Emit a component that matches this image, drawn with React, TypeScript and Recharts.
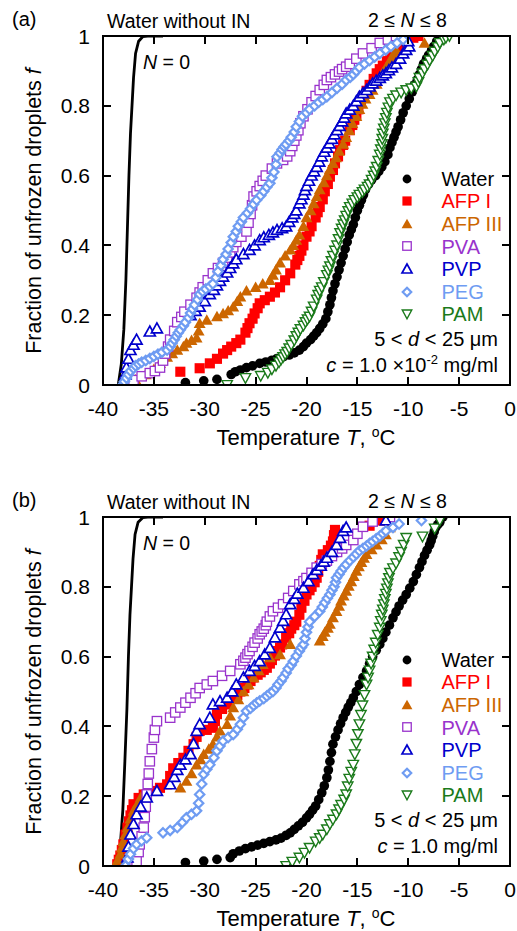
import React from 'react';
import { ScatterChart, Scatter, XAxis, YAxis } from 'recharts';

type P = { T: number; f: number };
const mk = (a: number[][]): P[] => a.map(([T, f]) => ({ T, f }));

const xTicks = [-40, -35, -30, -25, -20, -15, -10, -5, 0];
const yTicks = [0, 0.2, 0.4, 0.6, 0.8, 1];
const seriesNames = ['Water', 'AFP I', 'AFP III', 'PVA', 'PVP', 'PEG', 'PAM'];

// ---------- Panel (a): c = 1.0e-2 mg/ml ----------
const noInA = mk([[-38.5,0],[-38.2,0.06],[-37.95,0.16],[-37.75,0.3],[-37.6,0.45],[-37.45,0.6],[-37.3,0.72],[-37.15,0.8],[-37.0,0.88],[-36.8,0.95],[-36.5,0.985],[-36.1,0.998],[-35.6,1],[-34.1,1]]);
const waterA = mk([[-31.9,0.007],[-30.1,0.012],[-28.8,0.016],[-27.4,0.03],[-27.0,0.038],[-26.5,0.043],[-25.9,0.05],[-25.3,0.055],[-24.6,0.062],[-24.0,0.066],[-23.4,0.071],[-22.9,0.076],[-22.3,0.081],[-21.7,0.086],[-21.2,0.092],[-20.7,0.1],[-20.3,0.11],[-20.0,0.12],[-19.6,0.13],[-19.3,0.14],[-19.0,0.15],[-18.7,0.162],[-18.4,0.175],[-18.1,0.19],[-17.9,0.21],[-17.7,0.23],[-17.55,0.25],[-17.4,0.27],[-17.2,0.29],[-17.0,0.31],[-16.8,0.33],[-16.6,0.35],[-16.4,0.37],[-16.2,0.39],[-16.0,0.41],[-15.8,0.43],[-15.6,0.445],[-15.4,0.46],[-15.2,0.48],[-15.0,0.5],[-14.8,0.515],[-14.6,0.53],[-14.4,0.545],[-14.2,0.56],[-13.9,0.575],[-13.6,0.588],[-13.2,0.6],[-12.9,0.612],[-12.6,0.625],[-12.3,0.64],[-12.0,0.66],[-11.8,0.68],[-11.6,0.695],[-11.4,0.71],[-11.2,0.725],[-11.0,0.74],[-10.75,0.76],[-10.5,0.78],[-10.2,0.8],[-9.9,0.82],[-9.6,0.84],[-9.4,0.86],[-9.1,0.875],[-8.9,0.89],[-8.7,0.905],[-8.5,0.92],[-8.2,0.935],[-8.0,0.945],[-7.7,0.96],[-7.5,0.97],[-7.2,0.985],[-6.9,1.0]]);
const afp1A = mk([[-32.4,0.038],[-30.5,0.048],[-29.5,0.062],[-28.8,0.075],[-28.2,0.09],[-27.8,0.1],[-27.4,0.11],[-26.9,0.12],[-26.5,0.13],[-26.0,0.15],[-25.8,0.163],[-25.6,0.177],[-25.3,0.19],[-25.1,0.205],[-24.8,0.22],[-24.6,0.234],[-24.1,0.243],[-23.6,0.253],[-23.1,0.265],[-22.6,0.28],[-22.1,0.3],[-21.6,0.32],[-21.1,0.345],[-20.9,0.358],[-20.7,0.37],[-20.5,0.385],[-20.3,0.4],[-20.0,0.425],[-19.7,0.44],[-19.5,0.455],[-19.1,0.48],[-18.9,0.495],[-18.7,0.51],[-18.4,0.532],[-18.2,0.555],[-17.9,0.576],[-17.7,0.597],[-17.4,0.616],[-17.2,0.635],[-16.9,0.655],[-16.7,0.673],[-16.4,0.688],[-16.2,0.7],[-15.75,0.73],[-15.5,0.745],[-15.3,0.76],[-15.1,0.775],[-14.9,0.79],[-14.65,0.808],[-14.45,0.826],[-14.1,0.843],[-13.8,0.86],[-13.4,0.877],[-13.1,0.893],[-12.8,0.905],[-12.5,0.915],[-12.1,0.928],[-11.8,0.94],[-11.5,0.95],[-11.3,0.96],[-11.1,0.97],[-10.9,0.98],[-9.5,0.995],[-9.0,1.0]]);
const afp3A = mk([[-37.7,0.003],[-36.8,0.015],[-35.8,0.03],[-35.0,0.045],[-34.4,0.062],[-33.7,0.08],[-33.2,0.09],[-32.7,0.1],[-32.1,0.11],[-31.8,0.12],[-31.3,0.128],[-30.8,0.135],[-30.6,0.155],[-30.5,0.177],[-29.8,0.186],[-28.8,0.196],[-28.2,0.205],[-27.7,0.213],[-27.2,0.224],[-26.8,0.24],[-26.5,0.253],[-25.9,0.27],[-25.0,0.28],[-24.3,0.29],[-23.6,0.3],[-23.3,0.315],[-23.0,0.33],[-22.6,0.35],[-22.1,0.37],[-21.6,0.387],[-21.3,0.4],[-21.0,0.415],[-20.7,0.43],[-20.3,0.455],[-20.0,0.48],[-19.6,0.5],[-19.3,0.52],[-19.0,0.54],[-18.7,0.56],[-18.3,0.58],[-18.0,0.6],[-17.7,0.618],[-17.4,0.635],[-17.1,0.652],[-16.8,0.67],[-16.4,0.69],[-16.1,0.71],[-15.8,0.73],[-15.5,0.75],[-15.1,0.77],[-14.8,0.79],[-14.5,0.805],[-14.2,0.82],[-13.8,0.833],[-13.5,0.845],[-13.1,0.862],[-12.8,0.88],[-12.5,0.895],[-12.2,0.91],[-11.9,0.922],[-11.7,0.935],[-11.4,0.948],[-11.2,0.96],[-8.4,0.98]]);
const pvaA = mk([[-37.6,0.0],[-37.0,0.014],[-36.2,0.025],[-35.4,0.034],[-34.9,0.04],[-34.4,0.05],[-34.1,0.07],[-33.9,0.09],[-33.6,0.11],[-33.4,0.13],[-33.0,0.155],[-32.7,0.18],[-32.3,0.195],[-32.0,0.21],[-31.4,0.23],[-30.8,0.25],[-30.5,0.265],[-30.2,0.28],[-29.7,0.3],[-29.2,0.32],[-28.7,0.335],[-28.2,0.35],[-27.8,0.365],[-27.5,0.38],[-27.2,0.395],[-26.9,0.41],[-26.4,0.425],[-25.9,0.44],[-25.7,0.465],[-25.5,0.49],[-25.35,0.515],[-25.2,0.54],[-24.9,0.555],[-24.6,0.57],[-24.3,0.585],[-24.0,0.6],[-23.4,0.62],[-22.9,0.635],[-22.3,0.645],[-21.9,0.655],[-21.6,0.67],[-21.4,0.685],[-21.2,0.7],[-21.0,0.715],[-20.8,0.73],[-20.6,0.75],[-20.3,0.77],[-19.9,0.79],[-19.5,0.81],[-19.1,0.828],[-18.7,0.845],[-18.3,0.86],[-18.0,0.874],[-17.6,0.882],[-17.2,0.89],[-16.8,0.898],[-16.5,0.905],[-16.1,0.912],[-15.75,0.92],[-15.1,0.935],[-14.45,0.95],[-13.6,0.965],[-12.8,0.98],[-12.0,0.99],[-11.2,1.0]]);
const pvpA = mk([[-38.0,0.005],[-37.8,0.03],[-37.7,0.05],[-37.5,0.075],[-37.3,0.1],[-37.0,0.115],[-36.7,0.13],[-35.4,0.153],[-34.7,0.162],[-31.4,0.2],[-30.9,0.212],[-30.5,0.224],[-30.0,0.24],[-29.5,0.26],[-29.1,0.272],[-28.8,0.285],[-28.5,0.298],[-28.2,0.31],[-27.8,0.322],[-27.5,0.335],[-27.2,0.348],[-26.9,0.36],[-26.2,0.375],[-25.6,0.387],[-25.1,0.4],[-24.6,0.415],[-24.2,0.423],[-23.7,0.43],[-23.3,0.437],[-22.9,0.444],[-22.4,0.449],[-22.0,0.454],[-21.7,0.467],[-21.4,0.48],[-21.2,0.49],[-21.0,0.5],[-20.7,0.52],[-20.5,0.532],[-20.3,0.545],[-20.15,0.558],[-20.0,0.57],[-19.75,0.585],[-19.5,0.6],[-19.25,0.612],[-19.0,0.625],[-18.75,0.64],[-18.5,0.655],[-18.25,0.668],[-18.0,0.68],[-17.75,0.692],[-17.5,0.705],[-17.25,0.718],[-17.0,0.73],[-16.75,0.742],[-16.5,0.755],[-16.3,0.766],[-16.1,0.778],[-15.75,0.789],[-15.4,0.8],[-15.1,0.813],[-14.8,0.826],[-14.45,0.836],[-14.1,0.845],[-13.8,0.855],[-13.5,0.864],[-13.15,0.872],[-12.8,0.88],[-12.5,0.887],[-12.2,0.893],[-11.9,0.902],[-11.6,0.91],[-11.2,0.92],[-10.8,0.935],[-10.5,0.95],[-10.2,0.96],[-9.9,0.97],[-10.0,0.985]]);
const pegA = mk([[-38.1,0.0],[-37.9,0.01],[-37.7,0.02],[-37.5,0.03],[-37.3,0.04],[-37.0,0.048],[-36.8,0.055],[-36.5,0.06],[-36.2,0.065],[-35.8,0.07],[-35.4,0.076],[-35.0,0.082],[-34.6,0.088],[-34.2,0.094],[-33.7,0.1],[-33.4,0.11],[-33.2,0.12],[-33.0,0.13],[-32.8,0.14],[-32.6,0.15],[-32.4,0.158],[-32.1,0.17],[-31.9,0.18],[-31.6,0.193],[-31.4,0.206],[-31.2,0.218],[-31.0,0.23],[-30.7,0.245],[-30.5,0.26],[-30.2,0.268],[-29.9,0.275],[-29.5,0.282],[-29.2,0.29],[-28.9,0.308],[-28.7,0.325],[-28.4,0.343],[-28.2,0.36],[-27.9,0.375],[-27.7,0.39],[-27.4,0.408],[-27.2,0.425],[-26.9,0.44],[-26.7,0.455],[-26.4,0.468],[-26.2,0.48],[-25.8,0.493],[-25.5,0.505],[-25.2,0.518],[-24.9,0.53],[-24.5,0.543],[-24.2,0.555],[-23.9,0.567],[-23.6,0.578],[-23.4,0.594],[-23.2,0.61],[-23.0,0.632],[-22.9,0.654],[-22.6,0.665],[-22.4,0.675],[-22.2,0.683],[-22.0,0.69],[-21.7,0.7],[-21.5,0.71],[-21.2,0.725],[-21.0,0.74],[-20.7,0.755],[-20.4,0.77],[-20.0,0.78],[-19.7,0.79],[-19.2,0.8],[-18.8,0.81],[-18.4,0.818],[-18.0,0.826],[-17.5,0.838],[-17.0,0.85],[-16.5,0.862],[-16.1,0.874],[-15.7,0.882],[-15.4,0.89],[-15.1,0.9],[-14.8,0.91],[-14.3,0.92],[-13.8,0.93],[-13.3,0.94],[-12.8,0.95],[-12.2,0.96],[-11.7,0.97],[-11.1,0.98],[-10.5,0.99]]);
const pamA = mk([[-27.8,0.0],[-26.0,0.02],[-24.5,0.026],[-23.8,0.035],[-23.4,0.045],[-23.0,0.055],[-22.7,0.065],[-22.5,0.073],[-22.3,0.08],[-22.1,0.088],[-21.9,0.095],[-21.7,0.105],[-21.5,0.115],[-21.2,0.128],[-21.0,0.14],[-20.8,0.15],[-20.6,0.16],[-20.3,0.17],[-20.1,0.18],[-19.9,0.188],[-19.7,0.196],[-19.5,0.21],[-19.3,0.225],[-19.0,0.245],[-18.85,0.258],[-18.7,0.27],[-18.5,0.28],[-18.3,0.295],[-18.0,0.315],[-17.85,0.328],[-17.7,0.34],[-17.55,0.355],[-17.4,0.37],[-17.2,0.385],[-17.0,0.4],[-16.85,0.418],[-16.7,0.435],[-16.55,0.448],[-16.4,0.46],[-16.25,0.472],[-16.1,0.485],[-15.9,0.498],[-15.75,0.51],[-15.5,0.52],[-15.3,0.53],[-15.0,0.538],[-14.8,0.545],[-14.5,0.553],[-14.3,0.56],[-14.0,0.568],[-13.8,0.575],[-13.6,0.588],[-13.4,0.6],[-13.25,0.612],[-13.1,0.625],[-12.95,0.642],[-12.8,0.66],[-12.7,0.675],[-12.6,0.69],[-12.55,0.705],[-12.5,0.72],[-12.4,0.735],[-12.3,0.75],[-12.2,0.765],[-12.1,0.78],[-11.95,0.795],[-11.8,0.81],[-11.5,0.82],[-11.2,0.83],[-10.7,0.838],[-10.2,0.845],[-9.7,0.85],[-9.2,0.855],[-9.0,0.868],[-8.9,0.88],[-8.6,0.893],[-8.4,0.905],[-8.1,0.918],[-7.9,0.93],[-7.6,0.943],[-7.4,0.955],[-7.1,0.968],[-6.9,0.98],[-6.5,0.99],[-6.3,0.995],[-5.95,1.0]]);

// ---------- Panel (b): c = 1.0 mg/ml ----------
const noInB = mk([[-38.6,0],[-38.3,0.06],[-38.05,0.16],[-37.85,0.3],[-37.65,0.45],[-37.5,0.6],[-37.35,0.72],[-37.2,0.8],[-37.05,0.88],[-36.85,0.95],[-36.55,0.985],[-36.1,0.998],[-35.6,1],[-34.1,1]]);
const waterB = mk([[-31.9,0.01],[-30.1,0.014],[-28.8,0.019],[-27.5,0.024],[-27.2,0.035],[-26.6,0.043],[-26.0,0.05],[-25.4,0.055],[-24.8,0.06],[-24.2,0.065],[-23.6,0.07],[-23.0,0.075],[-22.5,0.08],[-22.0,0.088],[-21.6,0.095],[-21.2,0.105],[-20.8,0.115],[-20.4,0.125],[-20.0,0.138],[-19.7,0.148],[-19.4,0.16],[-19.1,0.172],[-18.8,0.19],[-18.5,0.21],[-18.25,0.23],[-18.0,0.253],[-17.85,0.275],[-17.7,0.3],[-17.55,0.325],[-17.4,0.349],[-17.15,0.37],[-16.9,0.39],[-16.65,0.408],[-16.4,0.425],[-16.15,0.44],[-15.9,0.455],[-15.65,0.468],[-15.4,0.482],[-15.1,0.5],[-14.8,0.52],[-14.45,0.54],[-14.1,0.559],[-13.8,0.58],[-13.5,0.6],[-13.15,0.618],[-12.8,0.635],[-12.5,0.652],[-12.2,0.67],[-11.85,0.69],[-11.5,0.711],[-11.2,0.728],[-10.9,0.745],[-10.55,0.762],[-10.2,0.778],[-9.85,0.796],[-9.5,0.815],[-9.2,0.835],[-8.9,0.855],[-8.65,0.872],[-8.4,0.89],[-8.15,0.905],[-7.9,0.92],[-7.75,0.932],[-7.6,0.945],[-7.45,0.958],[-7.3,0.97],[-7.1,0.978],[-6.9,0.985],[-6.6,1.0]]);
const afp1B = mk([[-38.6,0.005],[-38.45,0.018],[-38.3,0.03],[-38.15,0.046],[-38.0,0.062],[-37.8,0.09],[-37.6,0.11],[-37.45,0.128],[-37.3,0.145],[-37.15,0.16],[-37.0,0.177],[-36.5,0.195],[-36.0,0.205],[-35.2,0.215],[-34.4,0.224],[-33.7,0.234],[-33.4,0.258],[-33.1,0.28],[-32.6,0.295],[-32.1,0.31],[-31.6,0.33],[-31.1,0.349],[-30.8,0.37],[-30.5,0.387],[-29.8,0.39],[-29.2,0.396],[-29.0,0.415],[-28.8,0.435],[-28.3,0.45],[-27.8,0.463],[-27.2,0.48],[-26.8,0.49],[-26.5,0.5],[-26.1,0.51],[-25.8,0.52],[-25.5,0.53],[-25.2,0.54],[-24.8,0.548],[-24.5,0.555],[-24.2,0.562],[-23.9,0.568],[-23.6,0.58],[-23.4,0.59],[-23.1,0.603],[-22.9,0.616],[-22.6,0.626],[-22.4,0.635],[-22.0,0.654],[-21.7,0.667],[-21.5,0.68],[-21.2,0.69],[-21.0,0.7],[-20.7,0.72],[-20.5,0.74],[-20.2,0.76],[-20.0,0.778],[-19.7,0.79],[-19.5,0.8],[-19.2,0.813],[-19.0,0.826],[-18.85,0.843],[-18.7,0.86],[-18.55,0.877],[-18.4,0.893],[-17.9,0.905],[-17.6,0.918],[-17.4,0.93],[-17.3,0.948],[-17.2,0.963],[-13.8,0.975],[-12.8,0.99]]);
const afp3B = mk([[-38.8,0.0],[-38.55,0.017],[-38.3,0.034],[-38.15,0.052],[-38.0,0.07],[-37.8,0.09],[-37.6,0.11],[-37.3,0.135],[-37.0,0.158],[-36.6,0.178],[-36.3,0.196],[-32.4,0.224],[-31.8,0.243],[-31.3,0.265],[-30.8,0.29],[-30.4,0.305],[-30.1,0.32],[-29.6,0.335],[-29.2,0.349],[-28.8,0.37],[-28.5,0.387],[-27.8,0.406],[-27.5,0.43],[-27.2,0.454],[-26.7,0.477],[-26.2,0.5],[-25.7,0.52],[-25.2,0.54],[-24.7,0.56],[-24.3,0.578],[-23.6,0.597],[-22.6,0.606],[-21.6,0.635],[-18.7,0.645],[-18.4,0.658],[-18.2,0.67],[-17.9,0.682],[-17.7,0.693],[-17.4,0.712],[-17.05,0.73],[-16.8,0.745],[-16.6,0.76],[-16.35,0.774],[-16.1,0.788],[-15.85,0.802],[-15.6,0.815],[-15.35,0.83],[-15.1,0.845],[-14.85,0.858],[-14.6,0.87],[-14.35,0.882],[-14.1,0.893],[-13.6,0.907],[-13.1,0.92],[-12.6,0.935],[-12.2,0.95],[-11.8,0.97]]);
const pvaB = mk([[-36.9,0.0],[-36.7,0.014],[-36.5,0.04],[-36.4,0.062],[-36.2,0.085],[-36.0,0.11],[-35.9,0.14],[-35.8,0.17],[-35.7,0.205],[-35.6,0.235],[-35.5,0.265],[-35.4,0.3],[-35.2,0.335],[-35.0,0.368],[-34.9,0.39],[-34.7,0.415],[-33.4,0.425],[-32.9,0.44],[-32.4,0.454],[-31.9,0.468],[-31.4,0.482],[-30.9,0.495],[-30.5,0.51],[-29.8,0.52],[-29.2,0.53],[-28.3,0.545],[-27.5,0.559],[-26.5,0.578],[-26.2,0.588],[-26.0,0.597],[-25.8,0.607],[-25.6,0.616],[-25.3,0.628],[-25.1,0.64],[-24.8,0.652],[-24.6,0.664],[-24.4,0.672],[-24.2,0.68],[-24.0,0.69],[-23.9,0.7],[-23.6,0.715],[-23.3,0.73],[-22.8,0.74],[-22.3,0.75],[-21.8,0.768],[-21.3,0.788],[-20.7,0.807],[-20.3,0.816],[-20.0,0.825],[-19.5,0.84],[-19.0,0.855],[-18.5,0.865],[-18.0,0.875],[-17.5,0.888],[-17.0,0.9],[-16.5,0.91],[-16.1,0.92],[-15.4,0.934],[-15.0,0.952],[-14.45,0.972],[-13.5,0.987],[-11.8,1.0]]);
const pvpB = mk([[-37.9,0.0],[-37.6,0.024],[-37.5,0.055],[-37.3,0.09],[-37.0,0.12],[-36.7,0.148],[-36.3,0.17],[-35.7,0.196],[-34.7,0.215],[-33.4,0.234],[-33.0,0.255],[-32.7,0.275],[-32.4,0.29],[-31.9,0.305],[-31.4,0.32],[-31.1,0.35],[-30.8,0.387],[-30.5,0.406],[-29.5,0.425],[-29.2,0.463],[-28.5,0.472],[-27.8,0.482],[-27.3,0.5],[-26.9,0.52],[-26.2,0.54],[-25.6,0.559],[-25.1,0.573],[-24.6,0.587],[-24.1,0.606],[-23.6,0.625],[-23.1,0.655],[-22.6,0.683],[-22.3,0.702],[-22.0,0.721],[-21.6,0.75],[-21.2,0.765],[-20.9,0.78],[-20.3,0.797],[-19.8,0.816],[-19.35,0.836],[-19.0,0.848],[-18.6,0.86],[-18.3,0.872],[-18.0,0.883],[-17.5,0.9],[-17.05,0.92],[-16.7,0.94],[-16.4,0.96],[-16.1,0.97],[-12.2,0.99]]);
const pegB = mk([[-37.8,0.0],[-37.5,0.02],[-37.3,0.034],[-37.0,0.05],[-36.7,0.062],[-36.2,0.072],[-35.7,0.081],[-34.1,0.095],[-33.4,0.102],[-32.7,0.11],[-32.2,0.125],[-31.8,0.138],[-31.3,0.148],[-30.8,0.158],[-30.6,0.18],[-30.5,0.205],[-30.3,0.235],[-30.1,0.263],[-29.8,0.277],[-29.5,0.29],[-29.1,0.31],[-28.8,0.33],[-28.5,0.344],[-28.2,0.358],[-27.7,0.368],[-27.2,0.377],[-26.8,0.392],[-26.5,0.406],[-26.2,0.425],[-25.9,0.444],[-25.5,0.452],[-25.2,0.46],[-24.9,0.467],[-24.6,0.473],[-24.2,0.48],[-23.9,0.487],[-23.6,0.494],[-23.3,0.5],[-23.0,0.51],[-22.8,0.52],[-22.5,0.53],[-22.3,0.54],[-22.0,0.553],[-21.8,0.565],[-21.5,0.576],[-21.3,0.587],[-21.0,0.602],[-20.7,0.616],[-20.5,0.626],[-20.3,0.635],[-20.15,0.652],[-20.0,0.67],[-19.85,0.685],[-19.7,0.7],[-19.2,0.715],[-18.7,0.73],[-18.45,0.742],[-18.2,0.755],[-17.95,0.767],[-17.7,0.778],[-17.5,0.79],[-17.3,0.8],[-17.15,0.813],[-17.05,0.826],[-16.8,0.836],[-16.6,0.845],[-16.35,0.855],[-16.1,0.864],[-15.75,0.875],[-15.4,0.885],[-15.1,0.894],[-14.8,0.903],[-14.45,0.91],[-14.1,0.917],[-13.8,0.924],[-13.5,0.93],[-13.15,0.938],[-12.8,0.945],[-12.5,0.953],[-12.2,0.96],[-11.5,0.97],[-10.9,0.98],[-8.7,0.99]]);
const pamB = mk([[-22.0,0.0],[-21.4,0.012],[-20.7,0.024],[-20.2,0.038],[-19.7,0.052],[-19.1,0.07],[-18.7,0.08],[-18.4,0.09],[-18.0,0.105],[-17.7,0.12],[-17.4,0.133],[-17.05,0.148],[-16.8,0.162],[-16.6,0.175],[-16.3,0.19],[-16.1,0.205],[-15.95,0.228],[-15.8,0.25],[-15.6,0.27],[-15.4,0.29],[-15.25,0.32],[-15.1,0.35],[-14.95,0.378],[-14.8,0.406],[-14.65,0.433],[-14.5,0.46],[-14.3,0.49],[-14.1,0.52],[-13.95,0.54],[-13.8,0.56],[-13.65,0.58],[-13.5,0.6],[-13.35,0.62],[-13.2,0.64],[-13.0,0.662],[-12.8,0.683],[-12.7,0.702],[-12.6,0.72],[-12.5,0.735],[-12.4,0.75],[-12.3,0.765],[-12.2,0.78],[-12.1,0.795],[-12.0,0.81],[-11.9,0.825],[-11.8,0.84],[-11.5,0.853],[-11.2,0.867],[-10.9,0.885],[-10.7,0.9],[-10.45,0.92],[-10.2,0.94],[-8.6,0.944],[-7.4,0.967],[-6.9,0.99]]);

// ---------- styles ----------
type Kind = 'circle' | 'square' | 'triUp' | 'squareO' | 'triUpO' | 'diamondO' | 'triDownO';
const styles: { kind: Kind; color: string }[] = [
  { kind: 'circle', color: '#000000' },
  { kind: 'square', color: '#ff0000' },
  { kind: 'triUp', color: '#cc6600' },
  { kind: 'squareO', color: '#9933cc' },
  { kind: 'triUpO', color: '#0000cc' },
  { kind: 'diamondO', color: '#6f9cf2' },
  { kind: 'triDownO', color: '#1a7a1a' },
];
const FONT = '"Liberation Sans", Arial, Helvetica, sans-serif';

// plot box geometry (layout only)
const PL = 103, PR = 510, PT = 36, PB = 385;

function Mark({ cx, cy, kind, color, s = 10 }: { cx: number; cy: number; kind: Kind; color: string; s?: number }) {
  if (cx == null || cy == null || isNaN(cx) || isNaN(cy)) return <g />;
  const h = s / 2;
  switch (kind) {
    case 'circle':
      return <circle cx={cx} cy={cy} r={s * 0.44} fill={color} />;
    case 'square':
      return <rect x={cx - h * 0.92} y={cy - h * 0.92} width={s * 0.92} height={s * 0.92} fill={color} />;
    case 'triUp':
      return <polygon points={`${cx},${cy - h * 1.05} ${cx - h * 1.08},${cy + h * 0.85} ${cx + h * 1.08},${cy + h * 0.85}`} fill={color} />;
    case 'squareO':
      return <rect x={cx - h * 0.85} y={cy - h * 0.85} width={s * 0.85} height={s * 0.85} fill="#fff" stroke={color} strokeWidth={1.3} />;
    case 'triUpO':
      return <polygon points={`${cx},${cy - h * 1.0} ${cx - h * 1.0},${cy + h * 0.8} ${cx + h * 1.0},${cy + h * 0.8}`} fill="#fff" stroke={color} strokeWidth={1.7} />;
    case 'diamondO':
      return <polygon points={`${cx},${cy - h * 0.85} ${cx + h * 0.85},${cy} ${cx},${cy + h * 0.85} ${cx - h * 0.85},${cy}`} fill="#fff" stroke={color} strokeWidth={2.2} />;
    case 'triDownO':
      return <polygon points={`${cx - h * 0.95},${cy - h * 0.8} ${cx + h * 0.95},${cy - h * 0.8} ${cx},${cy + h * 0.95}`} fill="#fff" stroke={color} strokeWidth={1.4} />;
  }
  return <g />;
}

const fmtY = (v: number) => (v === 0 ? '0' : v === 1 ? '1' : v.toFixed(1));
const TL = 8;
const TW = 2;

const BottomTick = (p: any) => (
  <text x={p.x} y={p.y + 30.5} textAnchor="middle" fontSize={21} fontFamily={FONT} fill="#000">{p.payload.value}</text>
);
const LeftTick = (p: any) => (
  <text x={p.x - 13} y={p.y + 7.5} textAnchor="end" fontSize={21} fontFamily={FONT} fill="#000">{fmtY(p.payload.value)}</text>
);

// frame box with inward ticks, drawn with plain HTML boxes (layout only)
function FrameBox() {
  const xs = xTicks.slice(1, -1).map((t) => PL + ((t - xTicks[0]) / (xTicks[xTicks.length - 1] - xTicks[0])) * (PR - PL));
  const ys = yTicks.slice(1, -1).map((v) => PB - v * (PB - PT));
  const blk = (l: number, t: number, w: number, h: number, k: string) => (
    <div key={k} style={{ position: 'absolute', left: l, top: t, width: w, height: h, background: '#000' }} />
  );
  return (
    <div style={{ position: 'absolute', left: 0, top: 0, width: 517, height: 481, zIndex: 10, pointerEvents: 'none' }}>
      {blk(PL - 1, PT - 1, PR - PL + 2, 2, 'top')}
      {blk(PR - 1, PT - 1, 2, PB - PT + 2, 'right')}
      {blk(PL - 1, PB - 1, PR - PL + 2, 2, 'bottom')}
      {blk(PL - 1, PT - 1, 2, PB - PT + 2, 'left')}
      {xs.map((x, i) => blk(x - TW / 2, PB - TL, TW, TL, 'xb' + i))}
      {xs.map((x, i) => blk(x - TW / 2, PT, TW, TL, 'xt' + i))}
      {ys.map((y, i) => blk(PL, y - TW / 2, TL, TW, 'yl' + i))}
      {ys.map((y, i) => blk(PR - TL, y - TW / 2, TL, TW, 'yr' + i))}
    </div>
  );
}

function Txt({ left, cy, fs = 20, color = '#000', children, right }: any) {
  const st: React.CSSProperties = {
    position: 'absolute',
    top: cy - fs * 0.49,
    fontSize: fs,
    lineHeight: 1,
    color,
    fontFamily: FONT,
    whiteSpace: 'nowrap',
  };
  if (right != null) { st.right = 517 - right; } else { st.left = left; }
  return <div style={st}>{children}</div>;
}

function Panel({ top, tag, lineData, series, concText }: { top: number; tag: string; lineData: P[]; series: P[][]; concText: React.ReactNode }) {
  const axisLine = { stroke: '#000', strokeWidth: 2 };
  const rowY = (i: number) => 178.5 + 22.6 * i;
  return (
    <div style={{ position: 'absolute', left: 0, top, width: 517, height: 481 }}>
      <div style={{ position: 'absolute', left: 0, top: 0 }}>
        <ScatterChart width={517} height={481} margin={{ top: PT, right: 517 - PR, bottom: 66, left: PL - 60 }}>
          <XAxis type="number" dataKey="T" domain={[-40, 0]} ticks={xTicks} height={30}
            axisLine={axisLine} tickLine={false} tickSize={0} tickMargin={0}
            tick={BottomTick} interval={0} allowDataOverflow />
          <YAxis type="number" dataKey="f" domain={[0, 1]} ticks={yTicks} width={60}
            axisLine={axisLine} tickLine={false} tickSize={0} tickMargin={0}
            tick={LeftTick} interval={0} allowDataOverflow />
          <Scatter data={lineData} line={{ stroke: '#000', strokeWidth: 2.8 }} lineType="joint"
            shape={() => <g />} isAnimationActive={false} />
          {series.map((d, i) => (
            <Scatter key={seriesNames[i]} name={seriesNames[i]} data={d} isAnimationActive={false}
              shape={(p: any) => <Mark cx={p.cx} cy={p.cy} kind={styles[i].kind} color={styles[i].color} s={11} />} />
          ))}
        </ScatterChart>
      </div>
      <FrameBox />

      <Txt left={12} cy={19} fs={20}>({tag})</Txt>
      <Txt left={107} cy={21.5} fs={19.5}>Water without IN</Txt>
      <Txt left={368} cy={21} fs={19.5}>2 ≤ <i>N</i> ≤ 8</Txt>
      <Txt left={143} cy={62.5} fs={19.5}><i>N</i> = 0</Txt>

      {seriesNames.map((n, i) => (
        <React.Fragment key={n}>
          <svg style={{ position: 'absolute', left: 399, top: rowY(i) - 7 }} width={16} height={14}>
            <Mark cx={8} cy={7} kind={styles[i].kind} color={styles[i].color} s={10} />
          </svg>
          <Txt left={441.5} cy={rowY(i)} fs={20} color={styles[i].color}>{n}</Txt>
        </React.Fragment>
      ))}
      <Txt right={498} cy={339} fs={20}>5 &lt; <i>d</i> &lt; 25 μm</Txt>
      <Txt right={498} cy={365} fs={20}>{concText}</Txt>

      <div style={{ position: 'absolute', left: 106, width: 400, top: 438 - 22 * 0.49, fontSize: 22, lineHeight: 1, textAlign: 'center', fontFamily: FONT, whiteSpace: 'nowrap' }}>
        Temperature <i>T</i>, <sup style={{ fontSize: 14, verticalAlign: 'baseline', position: 'relative', top: -8 }}>o</sup>C
      </div>
      <div style={{ position: 'absolute', left: 34 - 170, top: 211 - 11, width: 340, height: 22, fontSize: 21.5, lineHeight: '22px', textAlign: 'center', fontFamily: FONT, whiteSpace: 'nowrap', transform: 'rotate(-90deg)' }}>
        Fraction of unfrozen droplets <i>f</i>
      </div>
    </div>
  );
}

export default function App() {
  return (
    <div style={{ position: 'absolute', left: 0, top: 0, width: 517, height: 931, background: '#fff' }}>
      <Panel top={0} tag="a" lineData={noInA} series={[waterA, afp1A, afp3A, pvaA, pvpA, pegA, pamA]}
        concText={<><i>c</i> = 1.0 ×10<sup style={{ fontSize: 13, verticalAlign: 'baseline', position: 'relative', top: -8 }}>-2</sup> mg/ml</>} />
      <Panel top={481} tag="b" lineData={noInB} series={[waterB, afp1B, afp3B, pvaB, pvpB, pegB, pamB]}
        concText={<><i>c</i> = 1.0 mg/ml</>} />
    </div>
  );
}
